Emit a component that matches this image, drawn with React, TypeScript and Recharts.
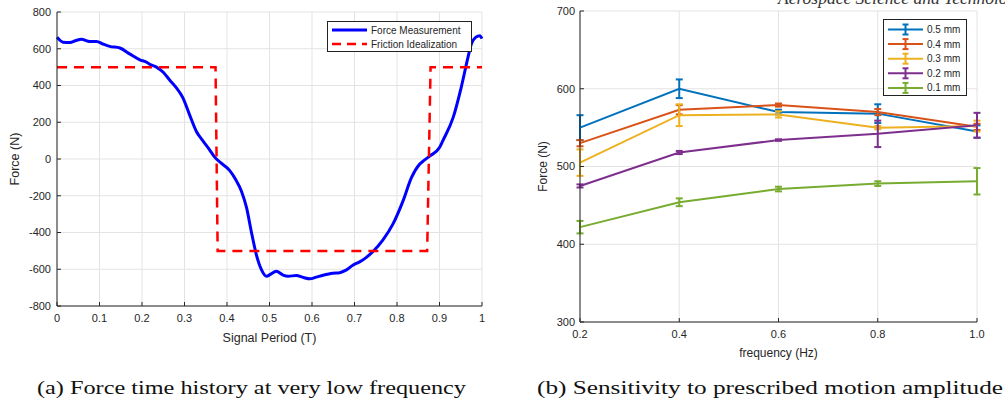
import { LineChart, Line, XAxis, YAxis, CartesianGrid, Legend, ErrorBar } from 'recharts';

// (a) force time history
const periodT = [
  0, 0.014, 0.03, 0.045, 0.057, 0.077, 0.093, 0.108, 0.124, 0.148, 0.171, 0.195, 0.21, 0.218, 0.234, 0.25,
  0.265, 0.28, 0.296, 0.312, 0.328, 0.343, 0.359, 0.371, 0.385, 0.406, 0.42, 0.434, 0.446, 0.457, 0.469,
  0.481, 0.493, 0.502, 0.516, 0.532, 0.544, 0.563, 0.58, 0.595, 0.61, 0.626, 0.649, 0.665, 0.68, 0.696,
  0.712, 0.728, 0.744, 0.767, 0.79, 0.814, 0.834, 0.853, 0.865, 0.877, 0.9, 0.908, 0.932, 0.951, 0.967,
  0.975, 0.985, 0.995, 1,
];
const forceMeasured = [
  662, 636, 634, 645, 652, 640, 640, 626, 613, 604, 572, 540, 528, 516, 500, 472,
  430, 390, 334, 240, 150, 100, 50, 10, -20, -62, -110, -175, -265, -393, -520,
  -602, -638, -628, -611, -632, -638, -634, -645, -652, -643, -633, -622, -619, -605, -578,
  -560, -535, -502, -440, -356, -229, -102, -29, -5, 16, 62, 100, 225, 389, 553,
  626, 662, 671, 655,
];
const idealT = [0, 0.373, 0.378, 0.871, 0.879, 1];
const idealForce = [500, 500, -500, -500, 500, 500];
const periodTicks = [0, 0.1, 0.2, 0.3, 0.4, 0.5, 0.6, 0.7, 0.8, 0.9, 1];
const forceTicksA = [-800, -600, -400, -200, 0, 200, 400, 600, 800];

// (b) sensitivity to amplitude
const frequencies = [0.2, 0.4, 0.6, 0.8, 1.0];
const amplitudeNames = ['0.5 mm', '0.4 mm', '0.3 mm', '0.2 mm', '0.1 mm'];
const force05 = [550, 600, 570, 568, 545];
const err05 = [16, 12, 3, 12, 8];
const force04 = [530, 573, 579, 570, 551];
const err04 = [4, 6, 2, 4, 4];
const force03 = [505, 566, 567, 550, 552];
const err03 = [17, 14, 4, 2, 7];
const force02 = [475, 518, 534, 542, 553];
const err02 = [2, 2, 1, 17, 16];
const force01 = [422, 454, 471, 478, 481];
const err01 = [8, 5, 3, 3, 17];
const freqTicks = [0.2, 0.4, 0.6, 0.8, 1.0];
const forceTicksB = [300, 400, 500, 600, 700];

const measuredData = periodT.map((t, i) => ({ t, force: forceMeasured[i] }));
const idealData = idealT.map((t, i) => ({ t, force: idealForce[i] }));

const forceSets = [force05, force04, force03, force02, force01];
const errSets = [err05, err04, err03, err02, err01];
const ampColors = ['#0072BD', '#D95319', '#EDB120', '#7E2F8E', '#77AC30'];
const sweepData = frequencies.map((f, i) => {
  const row: Record<string, number> = { f };
  forceSets.forEach((s, k) => {
    row['v' + k] = s[i];
    row['e' + k] = errSets[k][i];
  });
  return row;
});

const FONT = '"Liberation Sans", Arial, sans-serif';
const AXIS = '#262626';
const GRID = '#e3e3e3';
const tickStyle = { fill: AXIS, fontSize: 11 };

function LegendA({ payload }: any) {
  const items = payload || [];
  return (
    <div style={{ width: 145, height: 31, boxSizing: 'border-box', border: '1px solid #222', background: '#fff' }}>
      <svg width={143} height={29} style={{ display: 'block' }}>
        {items.map((it: any, i: number) => (
          <g key={i}>
            <line x1={4} x2={39} y1={8 + i * 14} y2={8 + i * 14} stroke={it.color}
              strokeWidth={i === 0 ? 3 : 2.5} strokeDasharray={i === 0 ? undefined : '9 6'} />
            <text x={43} y={11.5 + i * 14} fontSize={10} fill={AXIS} fontFamily={FONT}>{it.value}</text>
          </g>
        ))}
      </svg>
    </div>
  );
}

function LegendB({ payload }: any) {
  // keep plotting order (0.5 mm first), not alphabetical
  const items = [...(payload || [])].sort(
    (a: any, b: any) => amplitudeNames.indexOf(a.value) - amplitudeNames.indexOf(b.value),
  );
  return (
    <div style={{ width: 84, height: 77, boxSizing: 'border-box', border: '1px solid #222', background: '#fff' }}>
      <svg width={82} height={75} style={{ display: 'block' }}>
        {items.map((it: any, i: number) => {
          const y = 9.5 + i * 14.6;
          return (
            <g key={i} stroke={it.color} strokeWidth={2}>
              <line x1={4} x2={39} y1={y} y2={y} />
              <line x1={21.5} x2={21.5} y1={y - 5} y2={y + 5} />
              <line x1={18.5} x2={24.5} y1={y - 5} y2={y - 5} />
              <line x1={18.5} x2={24.5} y1={y + 5} y2={y + 5} />
              <text x={43} y={y + 3.5} fontSize={10} fill={AXIS} stroke="none" fontFamily={FONT}>{it.value}</text>
            </g>
          );
        })}
      </svg>
    </div>
  );
}

function TimeHistoryChart() {
  return (
    <LineChart width={500} height={350} margin={{ top: 12, right: 18, bottom: 0, left: 0 }} style={{ fontFamily: FONT }}>
      <CartesianGrid stroke={GRID} strokeWidth={1} />
      <XAxis type="number" dataKey="t" domain={[0, 1]} ticks={periodTicks} interval={0} height={44}
        tick={tickStyle} tickSize={-4} tickMargin={12} stroke={AXIS}
        label={{ value: 'Signal Period (T)', position: 'insideBottom', offset: 8, fill: AXIS, fontSize: 12.5 }} />
      <XAxis xAxisId="top" orientation="top" type="number" dataKey="t" domain={[0, 1]} ticks={periodTicks}
        interval={0} height={0} tickFormatter={() => ''} tickSize={-4} stroke={AXIS} />
      <YAxis type="number" domain={[-800, 800]} ticks={forceTicksA} interval={0} width={57}
        tick={tickStyle} tickSize={-4} tickMargin={10} stroke={AXIS}
        label={{ value: 'Force (N)', angle: -90, position: 'insideLeft', offset: 15, fill: AXIS, fontSize: 12.5, style: { textAnchor: 'middle' } }} />
      <YAxis yAxisId="right" orientation="right" type="number" domain={[-800, 800]} ticks={forceTicksA}
        interval={0} width={0} tickFormatter={() => ''} tickSize={-4} stroke={AXIS} />
      <Line data={measuredData} dataKey="force" name="Force Measurement" type="monotone" stroke="#0000ff"
        strokeWidth={3} dot={false} isAnimationActive={false} />
      <Line data={idealData} dataKey="force" name="Friction Idealization" type="linear" stroke="#ff0000"
        strokeWidth={2.5} strokeDasharray="10 7" dot={false} isAnimationActive={false} />
      <Legend layout="vertical" verticalAlign="middle" align="center" content={<LegendA />}
        wrapperStyle={{ position: 'absolute', top: 21, left: 327, width: 145, height: 31 }} />
    </LineChart>
  );
}

function AmplitudeChart() {
  return (
    <LineChart width={475} height={370} data={sweepData} margin={{ top: 11, right: 28, bottom: 0, left: 0 }} style={{ fontFamily: FONT }}>
      <CartesianGrid stroke={GRID} strokeWidth={1} />
      <XAxis type="number" dataKey="f" domain={[0.2, 1.0]} ticks={freqTicks} interval={0} height={48}
        tick={tickStyle} tickSize={-4} tickMargin={12} stroke={AXIS} tickFormatter={(v: number) => v.toFixed(1)}
        label={{ value: 'frequency (Hz)', position: 'insideBottom', offset: 13, fill: AXIS, fontSize: 12 }} />
      <XAxis xAxisId="top" orientation="top" type="number" dataKey="f" domain={[0.2, 1.0]} ticks={freqTicks}
        interval={0} height={0} tickFormatter={() => ''} tickSize={-4} stroke={AXIS} />
      <YAxis type="number" domain={[300, 700]} ticks={forceTicksB} interval={0} width={50}
        tick={tickStyle} tickSize={-4} tickMargin={9} stroke={AXIS}
        label={{ value: 'Force (N)', angle: -90, position: 'insideLeft', offset: 13, fill: AXIS, fontSize: 12, style: { textAnchor: 'middle' } }} />
      <YAxis yAxisId="right" orientation="right" type="number" domain={[300, 700]} ticks={forceTicksB}
        interval={0} width={0} tickFormatter={() => ''} tickSize={-4} stroke={AXIS} />
      {amplitudeNames.map((name, k) => (
        <Line key={name} dataKey={'v' + k} name={name} type="linear" stroke={ampColors[k]} strokeWidth={2}
          dot={false} isAnimationActive={false}>
          <ErrorBar dataKey={'e' + k} direction="y" width={3.5} stroke={ampColors[k]} strokeWidth={2} />
        </Line>
      ))}
      <Legend layout="vertical" verticalAlign="middle" align="center" content={<LegendB />}
        wrapperStyle={{ position: 'absolute', top: 19, left: 353, width: 84, height: 77 }} />
    </LineChart>
  );
}

export default function App() {
  return (
    <div style={{ position: 'relative', width: 1005, height: 410, background: '#fff', overflow: 'hidden' }}>
      <style>{'body{margin:0}'}</style>
      <div style={{ position: 'absolute', left: 0, top: 0 }}>
        <TimeHistoryChart />
      </div>
      <div style={{ position: 'absolute', left: 530, top: 0 }}>
        <AmplitudeChart />
      </div>
      <svg width={1005} height={410} style={{ position: 'absolute', left: 0, top: 0, pointerEvents: 'none' }}>
        <text x={778} y={4} fontSize={17.5} fontStyle="italic" fontFamily='"Liberation Serif", serif' fill="#333">
          Aerospace Science and Technology
        </text>
        <text x={37} y={394} fontSize={18} fontFamily='"Liberation Serif", "DejaVu Serif", serif' fill="#111"
          textLength={429} lengthAdjust="spacingAndGlyphs">(a) Force time history at very low frequency</text>
        <text x={537} y={394} fontSize={18} fontFamily='"Liberation Serif", "DejaVu Serif", serif' fill="#111"
          textLength={466} lengthAdjust="spacingAndGlyphs">(b) Sensitivity to prescribed motion amplitude</text>
      </svg>
    </div>
  );
}
